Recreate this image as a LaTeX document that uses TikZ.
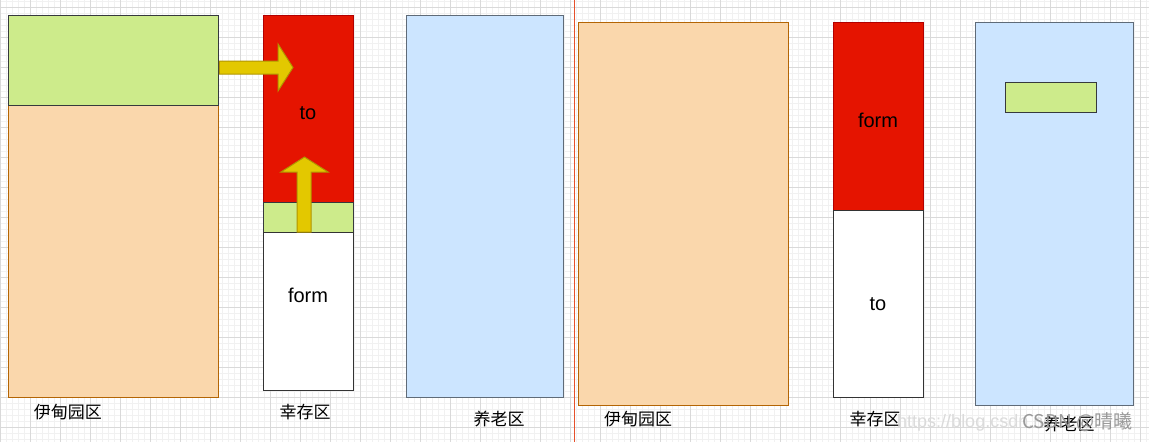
\documentclass[tikz,border=0pt]{standalone}
\usepackage{fontspec}
\setmainfont{Liberation Sans}
\newfontfamily\cjk{Noto Sans CJK SC}
\definecolor{gfill}{HTML}{CDEB8B}
\definecolor{gline}{HTML}{36393D}
\definecolor{ofill}{HTML}{FAD7AC}
\definecolor{oline}{HTML}{B46504}
\definecolor{rfill}{HTML}{E51400}
\definecolor{rline}{HTML}{B20000}
\definecolor{bfill}{HTML}{CCE5FF}
\definecolor{bline}{HTML}{5F6B78}
\definecolor{yfill}{HTML}{E3C800}
\definecolor{yline}{HTML}{B09500}
\definecolor{minorc}{HTML}{F1F1F1}
\definecolor{majorc}{HTML}{D9D9D9}
\definecolor{divider}{HTML}{E6502A}
\tikzset{
  box/.style={rectangle, anchor=north west, inner sep=0pt, line width=1.3pt},
  greenbox/.style={box, fill=gfill, draw=gline},
  orangebox/.style={box, fill=ofill, draw=oline},
  redbox/.style={box, fill=rfill, draw=rline},
  bluebox/.style={box, fill=bfill, draw=bline},
  whitebox/.style={box, fill=white, draw=black!80},
  yarrow/.style={fill=yfill, draw=yline, line width=1pt, line join=miter},
  boxtext/.style={font=\fontsize{20}{24}\selectfont, anchor=base, inner sep=0pt},
  zonelabel/.style={font=\cjk\fontsize{17}{20}\selectfont, inner sep=0pt},
  minorgrid/.style={draw=minorc, line width=0.8pt},
  majorgrid/.style={draw=majorc, line width=1pt},
}
\begin{document}
\begin{tikzpicture}[x=1pt,y=-1pt]
\useasboundingbox (0,0) rectangle (1149,442);
\fill[white] (0,0) rectangle (1149,442);
% grid
\foreach \i in {0,6,...,1146} \draw[minorgrid] (\i,0) -- (\i,442);
\foreach \j in {1,7,...,439} \draw[minorgrid] (0,\j) -- (1149,\j);
\foreach \i in {0,30,...,1140} \draw[majorgrid] (\i,0) -- (\i,442);
\foreach \j in {7,37,...,427} \draw[majorgrid] (0,\j) -- (1149,\j);
% divider
\draw[divider, line width=1.3pt] (574.5,0) -- (574.5,442);

% ---------- left half ----------
\node[orangebox, minimum width=210, minimum height=292] (edenA) at (8,105) {};
\node[greenbox, minimum width=210, minimum height=90] (edenAlive) at (8,15) {};
\node[redbox, minimum width=90, minimum height=187] (toA) at (263,15) {};
\node[greenbox, minimum width=90, minimum height=30] (survA) at (263,202) {};
\node[whitebox, minimum width=90, minimum height=158] (fromA) at (263,232) {};
\node[bluebox, minimum width=157, minimum height=382] (oldA) at (406,15) {};

\node[boxtext] (toAtext) at (308,119) {to};
\node[boxtext] (fromAtext) at (308,302) {form};

% block arrows
\draw[yarrow] (edenAlive.east |- 0,61) -- (278,61) -- (278,44) -- (293,67.5)
  -- (278,91) -- (278,74) -- (edenAlive.east |- 0,74) -- cycle;
\draw[yarrow] (297,232) -- (297,172) -- (281,172) -- (304.5,157) -- (328,172)
  -- (311,172) -- (311,232) -- cycle;

\node[zonelabel] (labEdenA) at (68,412) {伊甸园区};
\node[zonelabel] (labSurvA) at (305,412) {幸存区};
\node[zonelabel] (labOldA) at (499,419) {养老区};

% ---------- right half ----------
\node[orangebox, minimum width=210, minimum height=383] (edenB) at (578,22) {};
\node[redbox, minimum width=90, minimum height=188] (fromB) at (833,22) {};
\node[whitebox, minimum width=90, minimum height=187] (toB) at (833,210) {};
\node[bluebox, minimum width=158, minimum height=383] (oldB) at (975,22) {};
\node[greenbox, minimum width=91, minimum height=30] (promoted) at (1005,82) {};

\node[boxtext] (fromBtext) at (878,127) {form};
\node[boxtext] (toBtext) at (878,310) {to};

\node[zonelabel] (labEdenB) at (638,419) {伊甸园区};
\node[zonelabel] (labSurvB) at (875,419) {幸存区};

% watermark
\node[font=\fontsize{18}{20}\selectfont, text=black!14, anchor=base west, inner sep=0pt] (wmurl) at (897,427) {https://blog.csdn.net};
\node[zonelabel] (labOldB) at (1069,424) {养老区};
\node[font=\cjk\fontsize{19}{21}\selectfont, text=black!40, anchor=base west, inner sep=0pt] (wmname) at (1022,428) {CSDN @晴曦};
\end{tikzpicture}
\end{document}
